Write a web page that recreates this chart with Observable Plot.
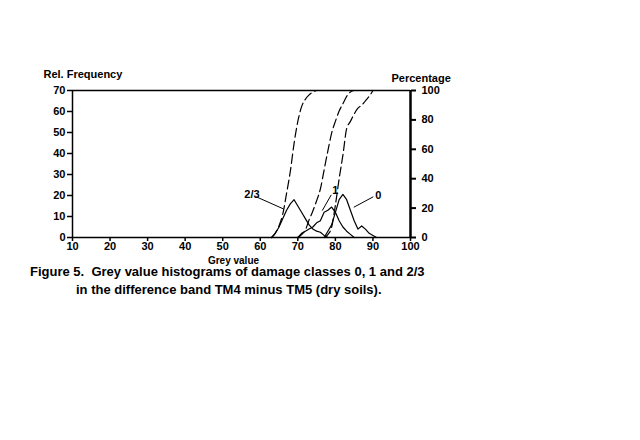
<!DOCTYPE html>
<html>
<head>
<meta charset="utf-8">
<script src="https://cdn.jsdelivr.net/npm/d3@7"></script>
<script src="https://cdn.jsdelivr.net/npm/@observablehq/plot@0.6"></script>
<style>
  html, body { margin: 0; padding: 0; background: #fff; }
  #wrap { position: relative; width: 640px; height: 440px; }
  .cap { position: absolute; font: bold 13px "Liberation Sans", Arial, sans-serif; white-space: pre; color: #000; }
</style>
</head>
<body>
<div id="wrap">
  <div id="chart"></div>
  <div class="cap" id="cap1" style="left:30px; top:264px;">Figure 5.  Grey value histograms of damage classes 0, 1 and 2/3</div>
  <div class="cap" id="cap2" style="left:76px; top:282px;">in the difference band TM4 minus TM5 (dry soils).</div>
</div>
<script>
// Histogram (relative frequency) per damage class
const grey0 = [77, 78, 79, 80, 81, 82, 83, 84, 85, 86, 87, 88, 89, 90, 91];
const freq0 = [0, 3, 6, 12, 18, 20.5, 18, 13, 8, 4, 5.5, 4, 2, 1, 0];
const grey1 = [70, 71, 72, 73, 74, 75, 76, 77, 78, 79, 80, 81, 82, 83, 84, 85];
const freq1 = [0, 2, 3, 4, 5, 7, 8, 12, 13, 14.5, 12, 8, 5, 3, 1.5, 0];
const grey23 = [63, 64, 65, 66, 67, 68, 69, 70, 71, 72, 73, 74, 75, 76, 77, 78];
const freq23 = [0, 2, 5, 9, 13, 16, 18, 15, 12, 9, 6, 4, 3, 2.5, 1, 0];

// Cumulative percentage per damage class
const cumGrey0 = [77, 78, 79, 80, 81, 82, 83, 84, 85, 86, 87, 88, 89, 90];
const cumPct0 = [0, 2, 7, 22, 40, 56, 74, 79, 84, 88, 90, 93, 96, 100];
const cumGrey1 = [70, 71, 72, 73, 74, 75, 76, 77, 78, 79, 80, 81, 82, 83, 84, 85];
const cumPct1 = [0, 2, 5, 12, 18, 25, 33, 46, 59, 71, 79, 86, 91, 96, 99, 100];
const cumGrey23 = [63, 64, 65, 66, 67, 68, 69, 70, 71, 72, 73, 74, 75];
const cumPct23 = [0, 3, 8, 16, 30, 45, 64, 79, 89, 94, 97, 99, 100];

const xTicks = [10, 20, 30, 40, 50, 60, 70, 80, 90, 100];
const yTicks = [0, 10, 20, 30, 40, 50, 60, 70];
const pctTicks = [0, 20, 40, 60, 80, 100];

// Class labels with leader lines
const labelText = ["2/3", "1", "0"];
const labelX = [57.8, 80.0, 91.4];
const labelY = [20.5, 22.3, 20];
const leaderX1 = [58.9, 78.9, 90.1];
const leaderY1 = [19.4, 20.3, 19.4];
const leaderX2 = [66.2, 76.5, 84.9];
const leaderY2 = [13.6, 12.8, 14.4];

const FMAX = 70, PMAX = 100, k = FMAX / PMAX;
const toRows = (xs, ys, cls) => xs.map((x, i) => ({x, y: ys[i], cls}));
const hist = [...toRows(grey0, freq0, "0"), ...toRows(grey1, freq1, "1"), ...toRows(grey23, freq23, "2/3")];
const cum = [...toRows(cumGrey0, cumPct0, "0"), ...toRows(cumGrey1, cumPct1, "1"), ...toRows(cumGrey23, cumPct23, "2/3")];
const labels = labelText.map((t, i) => ({t, x: labelX[i], y: labelY[i], x1: leaderX1[i], y1: leaderY1[i], x2: leaderX2[i], y2: leaderY2[i]}));

const font = "Liberation Sans, Arial, sans-serif";
const chart = Plot.plot({
  width: 640,
  height: 440,
  marginLeft: 72,
  marginRight: 230,
  marginTop: 90,
  marginBottom: 203,
  style: {fontFamily: font, fontSize: "11px", fontWeight: "bold", color: "#000", background: "#fff"},
  x: {domain: [10, 100]},
  y: {domain: [0, FMAX]},
  marks: [
    Plot.ruleY([FMAX], {stroke: "#000", strokeWidth: 1.5}),
    Plot.ruleX([10], {stroke: "#000", strokeWidth: 1.5}),
    Plot.ruleX([100], {stroke: "#000", strokeWidth: 2.5}),
    Plot.ruleY([0], {stroke: "#000", strokeWidth: 1.5}),
    Plot.axisY({ticks: yTicks, tickSize: 5, tickPadding: 2, label: null, tickFormat: d => d, strokeWidth: 1.5}),
    Plot.axisY({anchor: "right", ticks: pctTicks.map(p => p * k), tickSize: 5, tickPadding: 6, label: null, tickFormat: d => Math.round(d / k), strokeWidth: 2}),
    Plot.axisX({ticks: xTicks, tickSize: 4, tickPadding: 1, label: null, tickFormat: d => d, strokeWidth: 1.5}),
    Plot.line(hist, {x: "x", y: "y", z: "cls", stroke: "#000", strokeWidth: 1.2}),
    Plot.line(cum, {x: "x", y: d => d.y * k, z: "cls", stroke: "#000", strokeWidth: 1.2, strokeDasharray: "9,4", curve: "monotone-x"}),
    Plot.link(labels, {x1: "x1", y1: "y1", x2: "x2", y2: "y2", stroke: "#000", strokeWidth: 1}),
    Plot.text(labels, {x: "x", y: "y", text: "t", fontSize: 11, fontWeight: "bold", textAnchor: "middle"}),
    Plot.text(["Rel. Frequency"], {frameAnchor: "top-left", dx: -29, dy: -20, textAnchor: "start", fontSize: 11, fontWeight: "bold"}),
    Plot.text(["Percentage"], {frameAnchor: "top-right", dx: -19, dy: -16, textAnchor: "start", fontSize: 11, fontWeight: "bold"}),
    Plot.text(["Grey value"], {frameAnchor: "bottom", dx: -8, dy: 26, fontSize: 10, fontWeight: "bold"})
  ]
});
document.getElementById("chart").appendChild(chart);
</script>
</body>
</html>
